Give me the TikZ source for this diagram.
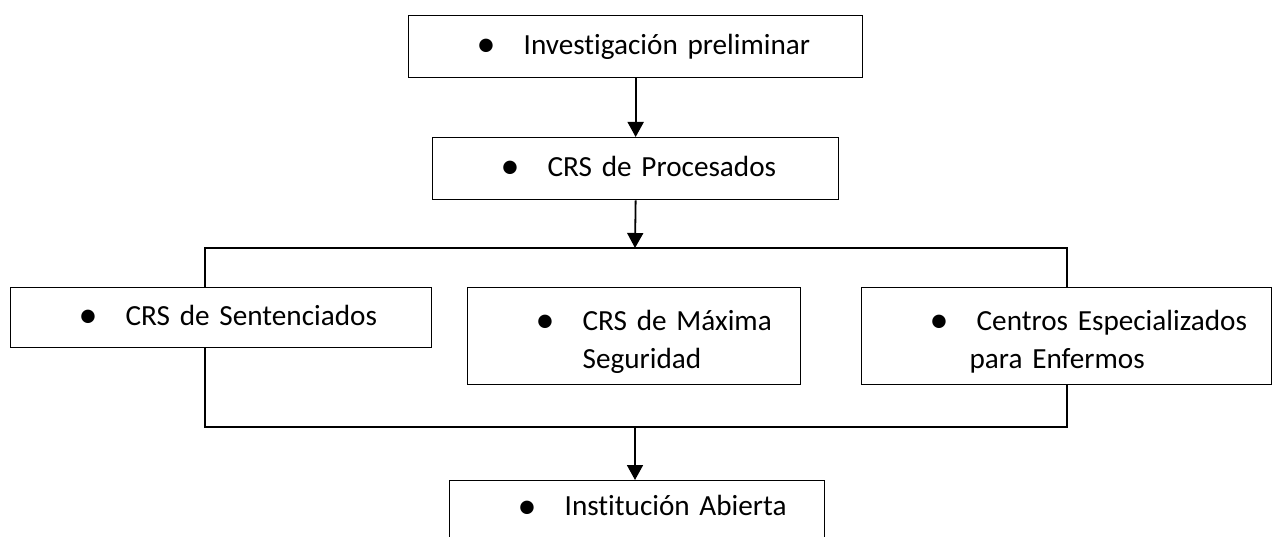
\documentclass[tikz,border=0pt]{standalone}
\usepackage{fontspec}
\setmainfont{Carlito}[Ligatures=NoCommon]
\usetikzlibrary{arrows.meta,positioning,calc}
\tikzset{
  caja/.style={draw,line width=1.3pt,fill=white,anchor=north west,inner xsep=0pt,inner ysep=0pt,align=left,font=\fontsize{29.2pt}{38pt}\selectfont},
  unalinea/.style={text height=22pt,text depth=7pt},
  flecha/.style={line width=1.8pt,-{Triangle[length=15pt,width=16pt]}},
  raya/.style={line width=1.3pt}
}
\newcommand{\vineta}{\hspace*{68pt}\makebox[47pt][l]{\raisebox{-2.5pt}{\scalebox{1.3}{\textbullet}}}}

\begin{document}
\begin{tikzpicture}[x=1pt,y=-1pt]
\clip (0,0) rectangle (1272,537);
% bracket behind the middle row
\coordinate (arriba) at (635,248);
\coordinate (abajo) at (635,427);
\coordinate (esqA) at (205,248);
\coordinate (esqB) at (1067,427);
\draw[raya] (esqA) rectangle (esqB);
% draw boxes
\node[caja,unalinea,text width=454pt,minimum height=62pt] (inv) at (408,15) {\vineta Investigación preliminar};
\node[caja,unalinea,text width=406pt,minimum height=62pt] (proc) at (432,137) {\vineta CRS de Procesados};
\node[caja,unalinea,text width=421pt,minimum height=60pt] (sent) at (10,287) {\vineta CRS de Sentenciados};
\node[caja,text width=333pt,minimum height=97pt] (maxi) at (467,287) {\vineta\rule{0pt}{31pt}CRS de Máxima\\\hspace*{115pt}Seguridad};
\node[caja,text width=410pt,minimum height=97pt] (enf) at (861,287) {\vineta\rule{0pt}{31pt}Centros Especializados\\\hspace*{108pt}para Enfermos};
\node[caja,text height=22pt,text depth=27pt,text width=375pt,minimum height=75pt] (inst) at (449,480) {\vineta Institución Abierta};
% draw arrows
\draw[flecha] (inv.south) -- (proc.north);
\draw[flecha] (proc.south) -- (arriba);
\draw[flecha] (abajo) -- (abajo |- inst.north);
\end{tikzpicture}
\end{document}
